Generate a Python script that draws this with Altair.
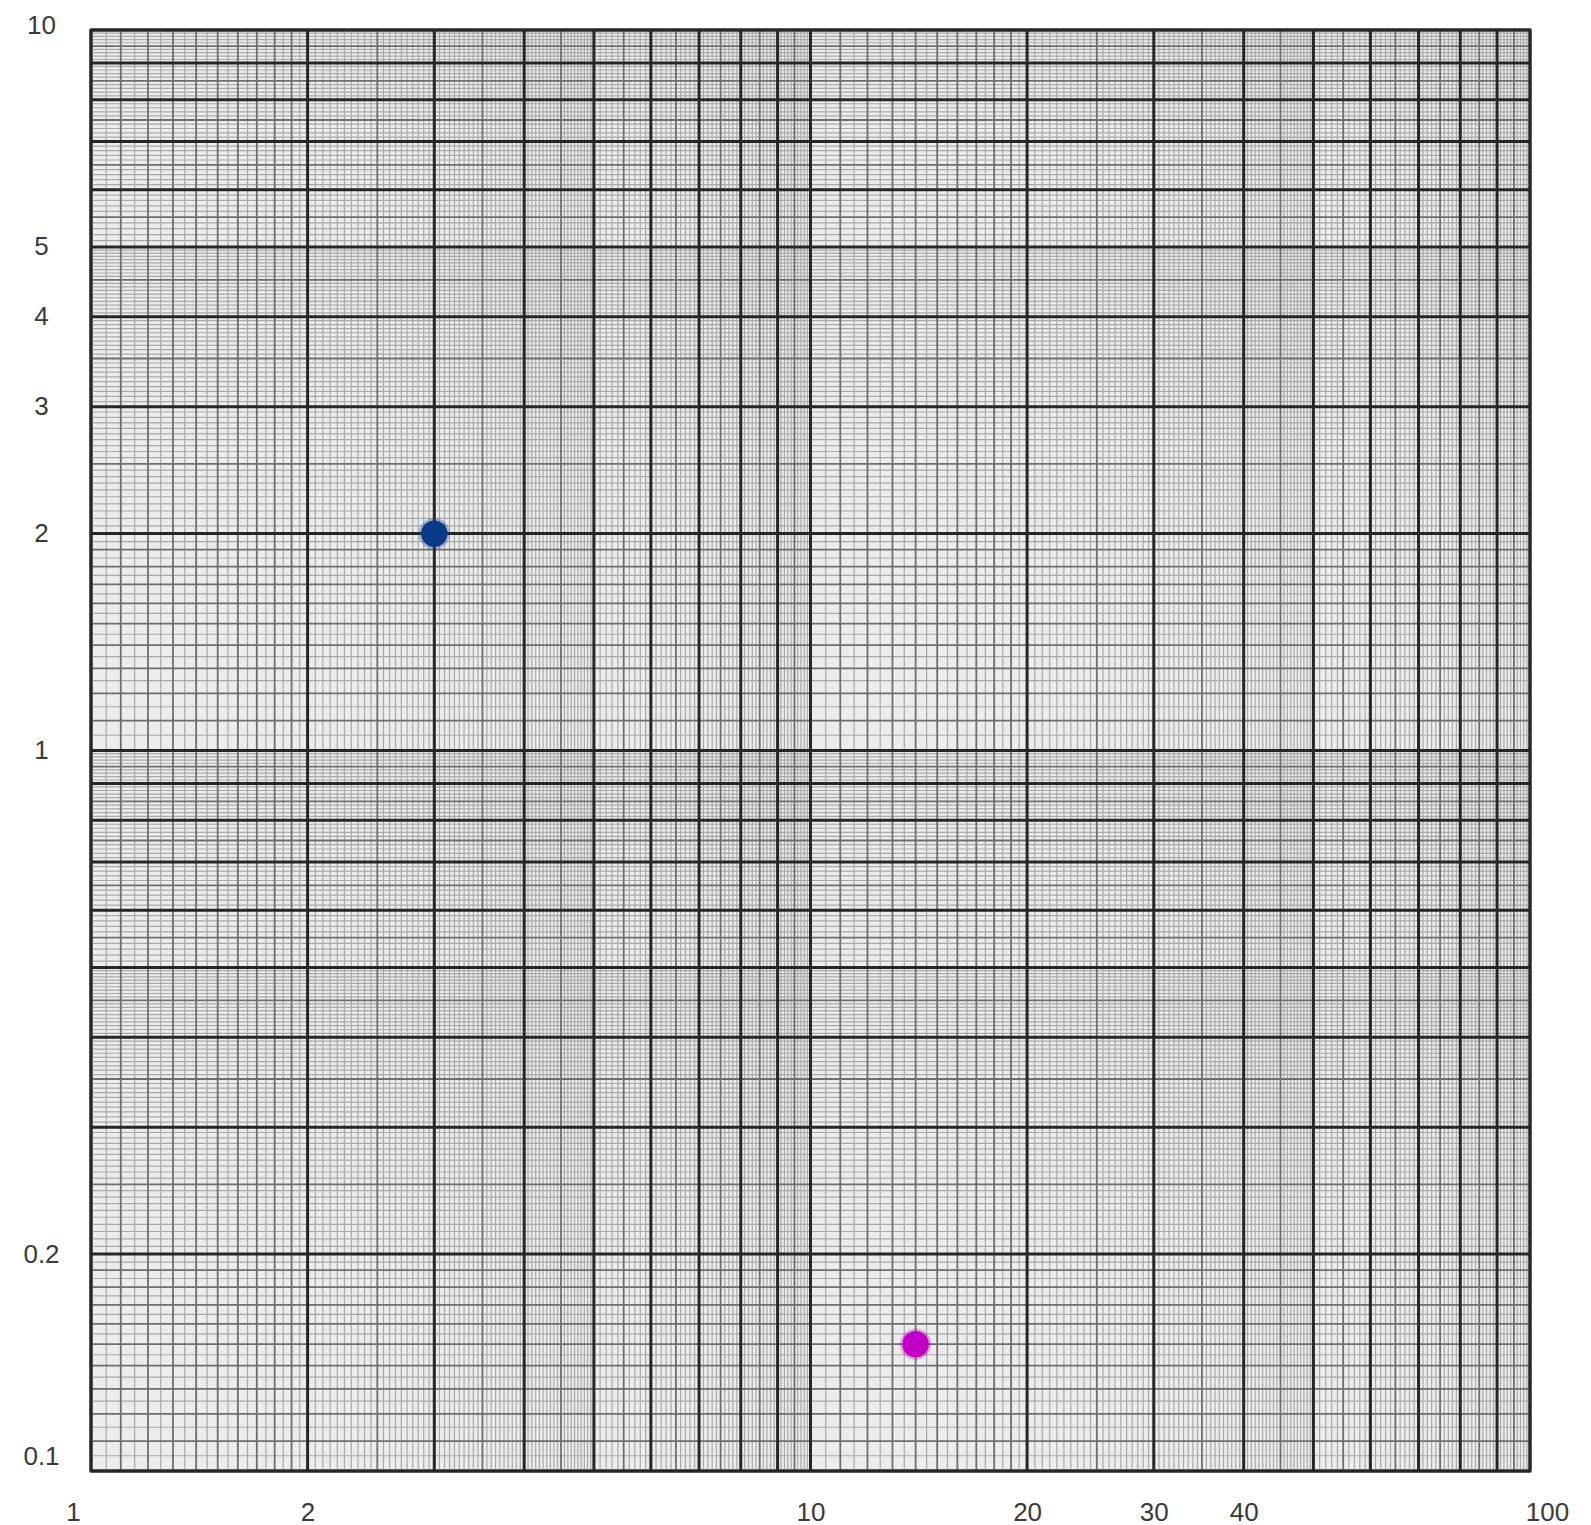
import altair as alt
import numpy as np
import pandas as pd

# ---- data -------------------------------------------------------------
pt_x = [3, 14]
pt_y = [2, 0.15]
pt_name = ["blue", "magenta"]
pt_colors = ["#0c3a8a", "#c000c4"]

x_labels = [1, 2, 10, 20, 30, 40, 100]
y_labels = [0.1, 0.2, 1, 2, 3, 4, 5, 10]

x_decades = [1, 10]
y_decades = [0.1, 1]

major_mult = [1, 2, 3, 4, 5, 6, 7, 8, 9]
medium_mult = [1.1, 1.2, 1.3, 1.4, 1.5, 1.6, 1.7, 1.8, 1.9,
               2.5, 3.5, 4.5,
               5.5, 6.5, 7.5, 8.5, 9.5]
fine_mult = sorted(set(
    [round(v, 2) for v in np.arange(1.05, 2.0, 0.1)]
    + [round(v, 2) for v in np.arange(2.05, 5.0, 0.05)]
    + [round(v, 2) for v in np.arange(5.1, 10.0, 0.1)]
) - set(medium_mult) - set(major_mult))


def grid_values(mults, decades, top):
    vals = [round(m * d, 6) for d in decades for m in mults]
    return sorted(v for v in vals if v <= top)


xs = alt.Scale(type="log", domain=[1, 100], nice=False, zero=False)
ys = alt.Scale(type="log", domain=[0.1, 10], nice=False, zero=False)

x_axis = alt.Axis(
    values=x_labels, format="~g", grid=False, domain=False, ticks=False,
    tickSize=0, labelFontSize=26, labelFont="Liberation Sans",
    labelColor="#3a3a3a", labelPadding=41, labelBaseline="middle",
    labelAlign="center", labelFlush=False, labelOverlap=False, title=None,
    labelOffset={"condition": [{"test": "datum.value == 1", "value": -18},
                               {"test": "datum.value == 100", "value": 17}],
                 "value": 0},
)
y_axis = alt.Axis(
    values=y_labels, format="~g", grid=False, domain=False, ticks=False,
    tickSize=0, labelFontSize=26, labelFont="Liberation Sans",
    labelColor="#3a3a3a", labelPadding=50, labelBaseline="middle",
    labelAlign="center", labelFlush=False, labelOverlap=False, title=None,
    labelOffset={"condition": [{"test": "datum.value == 10", "value": -5},
                               {"test": "datum.value == 0.1", "value": -15}],
                 "value": 0},
)

levels = [
    ("fine", fine_mult, "#a9a9a9", 1.2),
    ("medium", medium_mult, "#6e6e6e", 1.8),
    ("major", major_mult, "#262626", 3.0),
]

layers = []
for name, mults, col, w in levels:
    xv = grid_values(mults, x_decades, 100) + ([100] if name == "major" else [])
    yv = grid_values(mults, y_decades, 10) + ([10] if name == "major" else [])
    layers.append(
        alt.Chart(pd.DataFrame({"v": xv})).mark_rule(color=col, strokeWidth=w)
        .encode(x=alt.X("v:Q", scale=xs, axis=x_axis))
    )
    layers.append(
        alt.Chart(pd.DataFrame({"v": yv})).mark_rule(color=col, strokeWidth=w)
        .encode(y=alt.Y("v:Q", scale=ys, axis=y_axis))
    )

pts = pd.DataFrame({"x": pt_x, "y": pt_y, "name": pt_name})
layers.append(
    alt.Chart(pts).mark_circle(size=700, opacity=1, strokeWidth=5,
                               strokeOpacity=0.3).encode(
        x=alt.X("x:Q", scale=xs, axis=x_axis),
        y=alt.Y("y:Q", scale=ys, axis=y_axis),
        color=alt.Color("name:N", scale=alt.Scale(domain=pt_name, range=pt_colors),
                        legend=None),
        stroke=alt.Stroke("name:N", scale=alt.Scale(domain=pt_name, range=pt_colors),
                          legend=None),
    )
)

chart = alt.layer(*layers).properties(
    width=1439, height=1441,
    autosize=alt.AutoSizeParams(type="none"),
    padding={"left": 83, "top": 22, "right": 50, "bottom": 54},
    background="white",
).configure_view(stroke="#262626", strokeWidth=3, fill="#ececec")

chart.save("out.html", embed_options={"renderer": "svg", "actions": False})
